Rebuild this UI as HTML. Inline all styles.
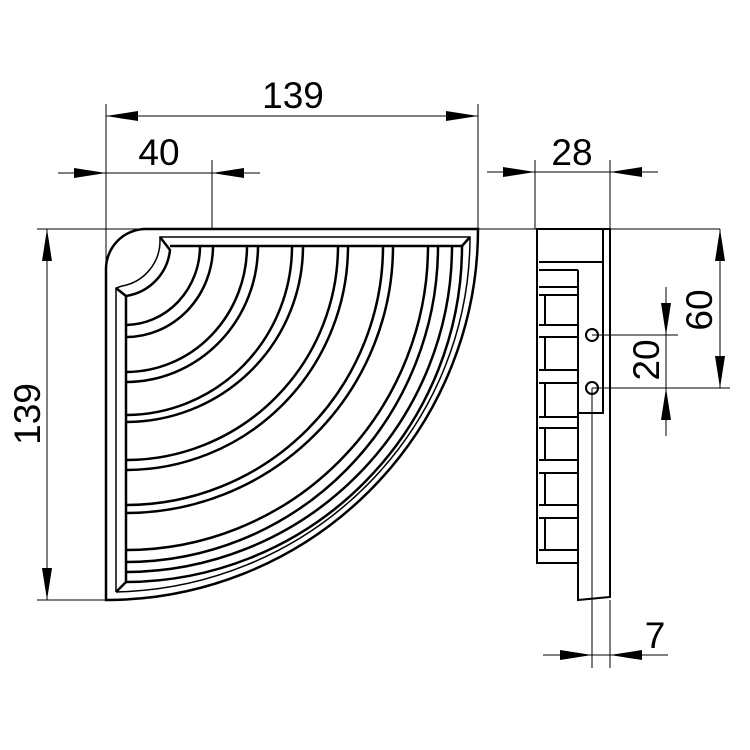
<!DOCTYPE html>
<html><head><meta charset="utf-8"><style>body{margin:0;background:#fff}svg{display:block}</style></head>
<body>
<svg width="750" height="750" viewBox="0 0 750 750" xmlns="http://www.w3.org/2000/svg" font-family="Liberation Sans, sans-serif">
<defs>
<marker id="a" viewBox="0 0 32 10" refX="32" refY="5" markerWidth="32" markerHeight="10" markerUnits="userSpaceOnUse" orient="auto"><path d="M0,0 L32,5 L0,10 Z" fill="#000"/></marker>
</defs>
<g stroke="#000" stroke-width="1" fill="none">
<line x1="106" y1="104" x2="106" y2="600"/>
<line x1="478" y1="104" x2="478" y2="229"/>
<line x1="212" y1="160" x2="212" y2="229"/>
<line x1="37" y1="229" x2="720" y2="229"/>
<line x1="37" y1="600" x2="106" y2="600"/>
<line x1="535" y1="160" x2="535" y2="229"/>
<line x1="610" y1="160" x2="610" y2="229"/>
<line x1="592" y1="335" x2="678" y2="335"/>
<line x1="592" y1="388" x2="730" y2="388"/>
<line x1="592" y1="388" x2="592" y2="668"/>
<line x1="610" y1="600" x2="610" y2="668"/>
<line x1="300" y1="116" x2="106" y2="116" marker-end="url(#a)"/>
<line x1="300" y1="116" x2="478" y2="116" marker-end="url(#a)"/>
<line x1="58" y1="173" x2="106" y2="173" marker-end="url(#a)"/>
<line x1="106" y1="173" x2="212" y2="173"/>
<line x1="260" y1="173" x2="212" y2="173" marker-end="url(#a)"/>
<line x1="487" y1="172" x2="535" y2="172" marker-end="url(#a)"/>
<line x1="535" y1="172" x2="610" y2="172"/>
<line x1="658" y1="172" x2="610" y2="172" marker-end="url(#a)"/>
<line x1="543" y1="655" x2="592" y2="655" marker-end="url(#a)"/>
<line x1="592" y1="655" x2="610" y2="655"/>
<line x1="668" y1="655" x2="610" y2="655" marker-end="url(#a)"/>
<line x1="47" y1="414" x2="47" y2="229" marker-end="url(#a)"/>
<line x1="47" y1="414" x2="47" y2="600" marker-end="url(#a)"/>
<line x1="720" y1="310" x2="720" y2="229" marker-end="url(#a)"/>
<line x1="720" y1="310" x2="720" y2="388" marker-end="url(#a)"/>
<line x1="666" y1="287" x2="666" y2="335" marker-end="url(#a)"/>
<line x1="666" y1="335" x2="666" y2="388"/>
<line x1="666" y1="436" x2="666" y2="388" marker-end="url(#a)"/>
</g>
<g font-size="37" fill="#000">
<text x="293" y="108" text-anchor="middle">139</text>
<text x="159" y="165" text-anchor="middle">40</text>
<text x="572" y="165" text-anchor="middle">28</text>
<text x="655" y="648" text-anchor="middle">7</text>
<text transform="translate(40,414) rotate(-90)" text-anchor="middle">139</text>
<text transform="translate(712,310) rotate(-90)" text-anchor="middle">60</text>
<text transform="translate(659,360) rotate(-90)" text-anchor="middle">20</text>
</g>
<g stroke="#000" stroke-width="2.5" fill="none">
<path d="M106,600 L106,269 A40,40 0 0 1 146,229 L478,229 A372,371 0 0 1 106,600 Z"/>
<path d="M116,592 L116,288 L122,286 A46,46 0 0 0 160,240 L160,237 L470,237 A362,355 0 0 1 116,592" stroke-width="1.5"/>
<path d="M116,288 L126,296 A52,52 0 0 0 170,250 L160,237"/>
<path d="M470,237 L462,246 L170,246 M126,296 L126,582 L116,592"/>
<path d="M462,246 A337,336 0 0 1 126,582"/>
<path d="M452,246 A327,326 0 0 1 126,572"/>
<path d="M200,246 A75,79 0 0 1 126,325"/>
<path d="M213,246 A87,91 0 0 1 126,337"/>
<path d="M247,246 A121,126 0 0 1 126,372"/>
<path d="M258,246 A132,136 0 0 1 126,382"/>
<path d="M292,246 A166,169 0 0 1 126,415"/>
<path d="M303,246 A177,176 0 0 1 126,422"/>
<path d="M338,246 A212,214 0 0 1 126,460"/>
<path d="M348,246 A222,224 0 0 1 126,470"/>
<path d="M383,246 A257,259 0 0 1 126,505"/>
<path d="M393,246 A267,267 0 0 1 126,513"/>
<path d="M428,246 A302,304 0 0 1 126,550"/>
<path d="M438,246 A312,316 0 0 1 126,562"/>
</g>
<g stroke="#000" stroke-width="2" fill="none">
<path d="M537,229 L610,229 L610,597 L578,600 L578,563 L537,563 Z"/>
<path d="M539,262 L603,262 M603,229 L603,413 L578,413 M578,270 L539,270 M578,270 L578,563"/>
<path d="M539,287 L578,287 M539,295 L578,295 M545,295 L545,325 M539,325 L578,325 M539,337 L578,337 M545,337 L545,370 M539,370 L578,370 M539,383 L578,383 M545,383 L545,417 M539,417 L578,417 M539,428 L578,428 M545,428 L545,460 M539,460 L578,460 M539,473 L578,473 M545,473 L545,505 M539,505 L578,505 M539,518 L578,518 M545,518 L545,550 M539,550 L578,550"/>
<circle cx="592" cy="335" r="6" fill="#fff"/>
<circle cx="592" cy="388" r="6" fill="#fff"/>
</g>
<line x1="592" y1="335" x2="678" y2="335" stroke="#000"/>
<line x1="592" y1="388" x2="730" y2="388" stroke="#000"/>
<line x1="592" y1="388" x2="592" y2="668" stroke="#000"/>
</svg>
</body></html>
